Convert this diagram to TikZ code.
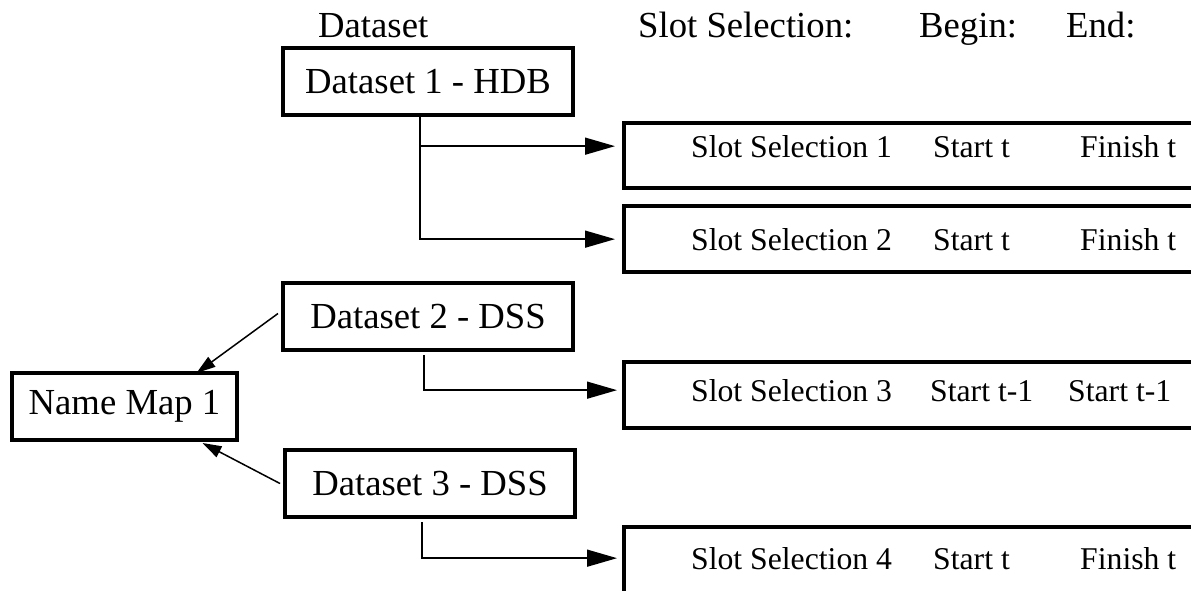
\documentclass[tikz,border=0pt]{standalone}
\usepackage{fontspec}
\setmainfont{Liberation Serif}
\usetikzlibrary{arrows.meta}
\begin{document}
\begin{tikzpicture}[x=1pt,y=1pt,
  bigfont/.style={font=\fontsize{36.7}{44}\selectfont},
  smallfont/.style={font=\fontsize{31.7}{38}\selectfont},
  dsbox/.style={draw, line width=4pt, bigfont, inner sep=0pt, outer sep=0pt, minimum height=67pt},
  slotbox/.style={draw, line width=4pt, inner sep=0pt, outer sep=0pt, anchor=north west, minimum width=700pt},
  hdr/.style={bigfont, anchor=base west, inner sep=0pt},
  slottxt/.style={smallfont, anchor=base west, inner sep=0pt},
  conn/.style={line width=1.5pt},
  bigarrow/.style={conn, -{Triangle[length=30pt,width=17pt]}},
  maparrow/.style={conn, -{Triangle[length=19pt,width=12pt]}}
]
\useasboundingbox (0,0) rectangle (1191,-590);
\clip (0,0) rectangle (1191,-590);

% headers
\node[hdr] (h1) at (318,-37) {Dataset};
\node[hdr] (h2) at (638,-37) {Slot Selection:};
\node[hdr] (h3) at (919,-37) {Begin:};
\node[hdr] (h4) at (1066,-37) {End:};

% dataset boxes
\node[dsbox, minimum width=290pt] (d1) at (428,-81.5) {Dataset 1 - HDB};
\node[dsbox, minimum width=290pt] (d2) at (428,-316.5) {Dataset 2 - DSS};
\node[dsbox, minimum width=290pt] (d3) at (430,-483.5) {Dataset 3 - DSS};
\node[dsbox, minimum width=225pt] (nm) at (124.5,-406.5) {Name Map 1};

% slot boxes
\node[slotbox, minimum height=65pt] (s1) at (624,-123) {};
\node[slotbox, minimum height=66pt] (s2) at (624,-206) {};
\node[slotbox, minimum height=66pt] (s3) at (624,-362) {};
\node[slotbox, minimum height=90pt] (s4) at (624,-527) {};

% slot texts
\node[slottxt] (s1a) at (691,-157) {Slot Selection 1};
\node[slottxt] (s1b) at (933,-157) {Start t};
\node[slottxt] (s1c) at (1080,-157) {Finish t};
\node[slottxt] (s2a) at (691,-250) {Slot Selection 2};
\node[slottxt] (s2b) at (933,-250) {Start t};
\node[slottxt] (s2c) at (1080,-250) {Finish t};
\node[slottxt] (s3a) at (691,-401) {Slot Selection 3};
\node[slottxt] (s3b) at (930,-401) {Start t-1};
\node[slottxt] (s3c) at (1068,-401) {Start t-1};
\node[slottxt] (s4a) at (691,-569) {Slot Selection 4};
\node[slottxt] (s4b) at (933,-569) {Start t};
\node[slottxt] (s4c) at (1080,-569) {Finish t};

% connectors
\draw[bigarrow] ([xshift=-8pt]d1.south) |- ([xshift=-9pt]s2.west |- s2a.center);
\draw[bigarrow] ([xshift=-8pt]d1.south |- s1a.center) -- ([xshift=-9pt]s1.west |- s1a.center);
\draw[bigarrow] ([xshift=-4pt,yshift=-5pt]d2.south) |- ([xshift=-7pt]s3.west |- s3a.center);
\draw[bigarrow] ([xshift=-8pt,yshift=-5pt]d3.south) |- ([xshift=-7pt]s4.west |- s4a.center);
\draw[maparrow] ([xshift=-5pt,yshift=3pt]d2.west) -- ([xshift=72pt]nm.north);
\draw[maparrow] ([xshift=-5pt]d3.west) -- ([xshift=78pt,yshift=-3pt]nm.south);
\end{tikzpicture}
\end{document}
